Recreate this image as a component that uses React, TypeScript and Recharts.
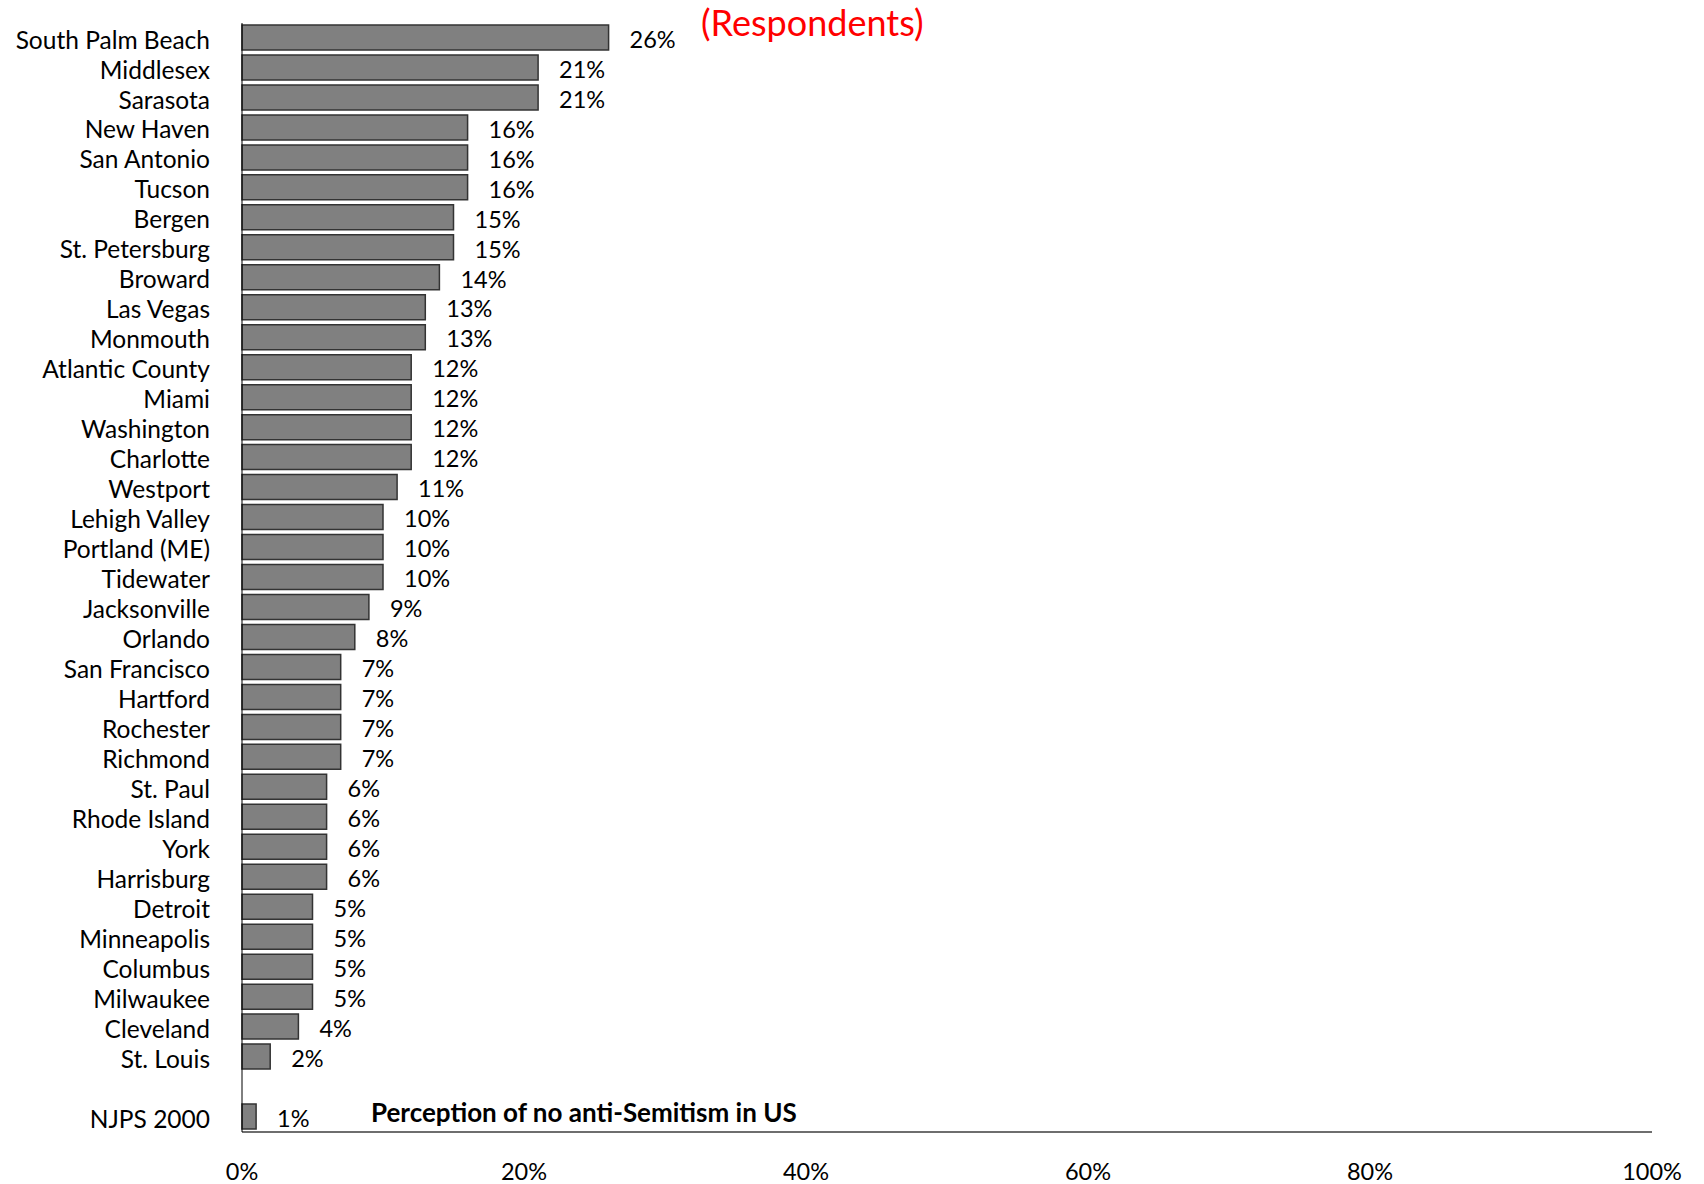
import { BarChart, Bar, XAxis, YAxis, LabelList } from 'recharts'

const cities = [
  'South Palm Beach', 'Middlesex', 'Sarasota', 'New Haven', 'San Antonio', 'Tucson',
  'Bergen', 'St. Petersburg', 'Broward', 'Las Vegas', 'Monmouth', 'Atlantic County',
  'Miami', 'Washington', 'Charlotte', 'Westport', 'Lehigh Valley', 'Portland (ME)',
  'Tidewater', 'Jacksonville', 'Orlando', 'San Francisco', 'Hartford', 'Rochester',
  'Richmond', 'St. Paul', 'Rhode Island', 'York', 'Harrisburg', 'Detroit',
  'Minneapolis', 'Columbus', 'Milwaukee', 'Cleveland', 'St. Louis',
]
const cityValues = [
  26, 21, 21, 16, 16, 16, 15, 15, 14, 13, 13, 12, 12, 12, 12, 11, 10, 10,
  10, 9, 8, 7, 7, 7, 7, 6, 6, 6, 6, 5, 5, 5, 5, 4, 2,
]
const nationalLabel = 'NJPS 2000'
const nationalValue = 1
const xTicks = [0, 20, 40, 60, 80, 100]

const data = [
  ...cities.map((name, i) => ({ name, value: cityValues[i] as number | null })),
  { name: ' ', value: null },
  { name: nationalLabel, value: nationalValue },
]

const font = 'Lato, "Open Sans", sans-serif'

function ValueLabel(props: any) {
  const { x, y, width, height, value } = props
  if (value == null) return null
  return (
    <text x={x + width + 21} y={y + height / 2 + 2} dy="0.35em" fill="#000" fontSize={23.5} fontFamily={font}>
      {value}%
    </text>
  )
}

function CityTick(props: any) {
  const { x, y, payload } = props
  return (
    <text x={x} y={y + 2} dy="0.35em" textAnchor="end" fill="#000" fontSize={24.5} fontFamily={font}>
      {payload.value}
    </text>
  )
}

export default function App() {
  return (
    <div style={{ position: 'absolute', left: 0, top: 0, width: 1704, height: 1184, background: '#fff' }}>
      <BarChart
        width={1704}
        height={1184}
        data={data}
        layout="vertical"
        margin={{ top: 23, right: 52, bottom: 0, left: 0 }}
      >
        <XAxis
          type="number"
          domain={[0, 100]}
          ticks={xTicks}
          tickFormatter={(v) => `${v}%`}
          tickLine={false}
          tickSize={0}
          tickMargin={31}
          height={52}
          axisLine={{ stroke: '#6e6e6e', strokeWidth: 2 }}
          tick={{ fill: '#000', fontSize: 23.5, fontFamily: font }}
          interval={0}
        />
        <YAxis
          type="category"
          dataKey="name"
          width={242}
          tickLine={false}
          tickSize={0}
          tickMargin={32}
          interval={0}
          axisLine={{ stroke: '#000', strokeWidth: 1 }}
          tick={CityTick}
        />
        <Bar dataKey="value" fill="#808080" stroke="#333" strokeWidth={1.5} barSize={25} isAnimationActive={false}>
          <LabelList dataKey="value" content={ValueLabel} />
        </Bar>
      </BarChart>
      <div style={{ position: 'absolute', left: 701, top: 0, height: 44, lineHeight: '44px', color: '#ff0000', fontSize: 36, fontFamily: font }}>
        (Respondents)
      </div>
      <div style={{ position: 'absolute', left: 371, top: 1097, height: 30, lineHeight: '30px', color: '#000', fontSize: 26, fontWeight: 700, fontFamily: font }}>
        Perception of no anti-Semitism in US
      </div>
    </div>
  )
}
